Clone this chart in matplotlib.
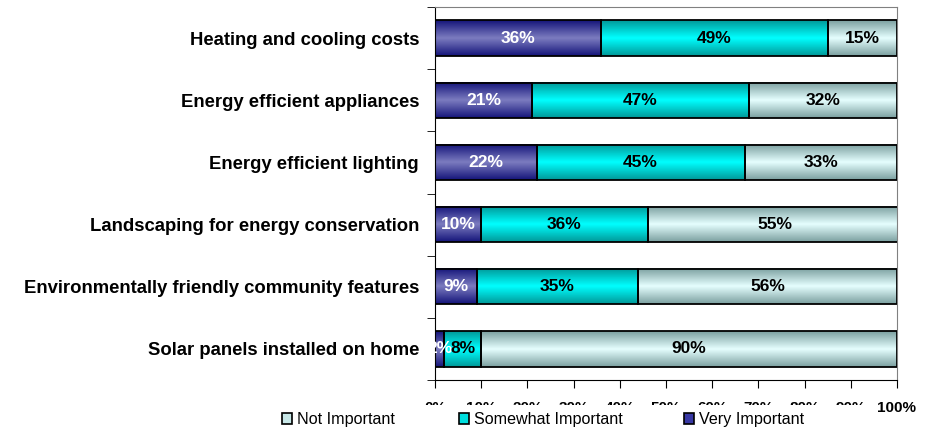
import numpy as np
import matplotlib.pyplot as plt
from matplotlib.patches import Patch, Rectangle
from matplotlib.colors import LinearSegmentedColormap

plt.rcParams['font.family'] = ['Liberation Sans', 'DejaVu Sans']

# Data (top to bottom as shown)
categories = ['Heating and cooling costs',
              'Energy efficient appliances',
              'Energy efficient lighting',
              'Landscaping for energy conservation',
              'Environmentally friendly community features',
              'Solar panels installed on home']
very_important = [36, 21, 22, 10, 9, 2]
somewhat_important = [49, 47, 45, 36, 35, 8]
not_important = [15, 32, 33, 55, 56, 90]
xtick_labels = ['0%', '10%', '20%', '30%', '40%', '50%', '60%', '70%', '80%', '90%', '100%']

# edge / middle / edge colours for a cylinder-like shading
shades = {
    'Very Important': ('#15157a', '#7c7cc0', '#15157a'),
    'Somewhat Important': ('#009999', '#00ffff', '#009999'),
    'Not Important': ('#7ba0a0', '#e6ffff', '#7ba0a0'),
}
flat = {'Very Important': '#3333a0', 'Somewhat Important': '#00e0e0',
        'Not Important': '#c0e4e4'}

fig = plt.figure(figsize=(9.26, 4.28), dpi=100)
ax = fig.add_axes([435 / 926, 1 - 380 / 428, 462 / 926, 373 / 428])

y = np.arange(len(categories))
h = 0.57
series = [('Very Important', very_important, 'white'),
          ('Somewhat Important', somewhat_important, 'black'),
          ('Not Important', not_important, 'black')]

grad = np.linspace(0, 1, 64).reshape(-1, 1)
left = np.zeros(len(categories))
for name, vals, tcol in series:
    bars = ax.barh(y, vals, left=left, height=h, color=flat[name],
                   edgecolor='black', linewidth=1.3, zorder=3)
    cmap = LinearSegmentedColormap.from_list(name, shades[name])
    for b, v in zip(bars, vals):
        x0, y0 = b.get_x(), b.get_y()
        ax.imshow(grad, cmap=cmap, aspect='auto', zorder=2.5,
                  extent=(x0, x0 + b.get_width(), y0 + b.get_height(), y0))
        b.set_facecolor('none')
        ax.text(x0 + b.get_width() / 2, b.get_y() + b.get_height() / 2,
                f'{v}%', ha='center', va='center', color=tcol,
                fontsize=12.5, fontweight='bold', zorder=4)
    left += np.array(vals)

ax.set_xlim(0, 100)
ax.set_ylim(len(categories) - 0.5, -0.5)
ax.set_yticks(y)
ax.set_yticklabels(categories, fontsize=13.3, fontweight='bold')
ax.tick_params(axis='y', length=0, pad=11.5)
ax.set_yticks(np.arange(len(categories) + 1) - 0.5, minor=True)
ax.tick_params(axis='y', which='minor', length=6, direction='out')
ax.set_xticks(np.arange(0, 101, 10))
ax.set_xticklabels(xtick_labels, fontsize=11, fontweight='bold')
ax.tick_params(axis='x', length=6, direction='out', pad=9)

for s in ('top', 'right'):
    ax.spines[s].set_color('#808080')
    ax.spines[s].set_linewidth(0.8)
for s in ('left', 'bottom'):
    ax.spines[s].set_color('black')
    ax.spines[s].set_linewidth(0.8)

# white legend area that hides the lower part of the tick labels
fig.patches.append(Rectangle((255 / 926, 0), (872 - 255) / 926, 23 / 428,
                             transform=fig.transFigure, facecolor='white',
                             edgecolor='none', zorder=5))

legend_items = [('Not Important', '#c8e8e8', 282),
                ('Somewhat Important', '#00e0e0', 459),
                ('Very Important', '#3838a4', 684)]
for label, col, px in legend_items:
    leg = fig.legend(handles=[Patch(facecolor=col, edgecolor='black',
                                    linewidth=1.2, label=label)],
                     loc='center left', bbox_to_anchor=(px / 926, 0.019),
                     frameon=False, fontsize=11.6, handlelength=0.62,
                     handleheight=0.62, handletextpad=0.3, borderpad=0,
                     borderaxespad=0)
    leg.set_zorder(10)

fig.savefig('out.png', dpi=100)
